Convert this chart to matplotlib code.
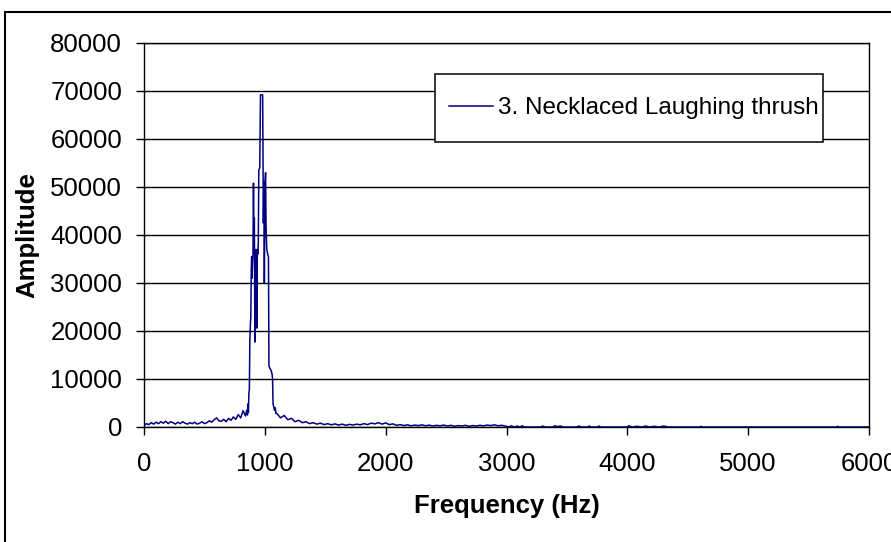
import matplotlib
matplotlib.use('Agg')
import matplotlib.pyplot as plt, numpy as np
from matplotlib.patches import Rectangle
plt.rcParams['font.family'] = ['Liberation Sans', 'DejaVu Sans']

# low frequency noise floor, 0-840 Hz every 20 Hz
lo_freq = np.arange(0, 841, 20)
lo_amp = [300, 700, 500, 900, 600, 1000, 700, 1100, 800, 1200,
		  700, 1100, 900, 600, 1000, 700, 1100, 800, 600, 900,
		  700, 1000, 600, 800, 1100, 700, 900, 1300, 1000, 1500,
		  1900, 1300, 1200, 1600, 1100, 1800, 1400, 2100, 1600, 2600,
		  1900, 3400, 2300]

# main peak around 1 kHz
peak_freq = [850, 856, 860, 864, 868, 872, 876, 880, 884, 888,
			 891, 894, 898, 902, 906, 910, 913, 918, 922, 926,
			 930, 934, 938, 942, 946, 950, 958, 964, 982, 985,
			 988, 992, 996, 1002, 1006, 1010, 1016, 1024, 1030, 1034,
			 1042, 1052, 1060, 1064, 1068, 1074, 1080, 1086, 1092]
peak_amp = [3500, 2500, 4800, 3000, 7000, 7800, 18000, 21000, 23000, 33000,
			35500, 31000, 34000, 36000, 50800, 38000, 43500, 17700, 36000, 37000,
			33000, 20600, 37000, 36000, 38500, 53500, 54000, 69200, 69200, 53500,
			42500, 51000, 30000, 51000, 53000, 42000, 37000, 36000, 35500, 12800,
			12200, 11800, 11000, 10000, 4800, 4200, 3500, 4000, 2800]

# decaying tail, 1100-2990 Hz every 30 Hz
tail_freq = np.arange(1100, 2991, 30)
tail_amp = [2800, 1900, 2400, 1500, 1800, 1100, 1400, 900, 1100, 700,
			900, 600, 800, 500, 700, 450, 650, 400, 600, 350,
			550, 400, 600, 450, 700, 500, 800, 650, 900, 600,
			850, 500, 650, 350, 500, 300, 450, 250, 400, 300,
			450, 250, 400, 200, 350, 250, 400, 200, 350, 150,
			300, 200, 350, 150, 300, 200, 350, 250, 400, 300,
			450, 250, 350, 200]

# high frequencies: mostly zero with a few blips
hi_freq = [3020, 3040, 3060, 3090, 3110, 3130, 3150, 3280, 3300, 3320,
		   3380, 3400, 3420, 3450, 3470, 3580, 3600, 3620, 3670, 3685,
		   3700, 3750, 3765, 3780, 4000, 4010, 4040, 4080, 4120, 4150,
		   4190, 4220, 4260, 4300, 4340, 4600, 4610, 4620, 5730, 5740,
		   5750, 6000]
hi_amp = [0, 250, 0, 200, 0, 250, 0, 0, 200, 0,
		  0, 250, 100, 200, 0, 0, 200, 0, 0, 200,
		  0, 0, 200, 0, 0, 250, 0, 150, 0, 200,
		  0, 150, 0, 200, 0, 0, 150, 0, 0, 150,
		  0, 0]

freq = np.concatenate([lo_freq, peak_freq, tail_freq, hi_freq])
amp = np.concatenate([lo_amp, peak_amp, tail_amp, hi_amp])

navy = '#000080'
W, H = 891.0, 542.0

fig = plt.figure(figsize=(8.91, 5.42), dpi=100)
ax = fig.add_axes([144/W, 115/H, 725/W, 384/H])

ax.plot(freq, amp, color=navy, lw=1.1, label='3. Necklaced Laughing thrush', zorder=3)
ax.set_xlim(0, 6000)
ax.set_ylim(0, 80000)
ax.set_xticks(np.arange(0, 6001, 1000))
ax.set_yticks(np.arange(0, 80001, 10000))
ax.yaxis.grid(True, color='black', lw=1.0)
ax.set_axisbelow(True)
for s in ax.spines.values():
	s.set_color('black')
	s.set_linewidth(1.0)

ax.tick_params(direction='out', length=5.8, width=1, labelsize=18.5, colors='black')
ax.tick_params(axis='x', pad=12)
ax.tick_params(axis='y', pad=10)

ax.set_xlabel('Frequency (Hz)', fontsize=18.5, fontweight='bold')
ax.set_ylabel('Amplitude', fontsize=18.5, fontweight='bold')
ax.xaxis.set_label_coords(0.5, -0.175)
ax.yaxis.set_label_coords(-0.145, 0.5)

# legend box drawn by hand so its padding matches the original
ax.add_patch(Rectangle((435/W, 1-142/H), 388/W, 68/H, transform=fig.transFigure, clip_on=False,
					   facecolor='white', edgecolor='black', lw=1.1, zorder=4))
leg = ax.legend(loc='center left', bbox_to_anchor=(449/W, 1-108/H), bbox_transform=fig.transFigure,
				frameon=False, borderpad=0, borderaxespad=0, handlelength=1.81, handletextpad=0.2,
				fontsize=17.5)
leg.set_zorder(5)

# outer chart border (cut off on right and bottom like the original)
fig.patches.append(Rectangle((5/W, -0.05), 1.2, 1-12/H+0.05, transform=fig.transFigure,
							 fill=False, edgecolor='black', lw=1.5))

fig.savefig('out.png', dpi=100)
